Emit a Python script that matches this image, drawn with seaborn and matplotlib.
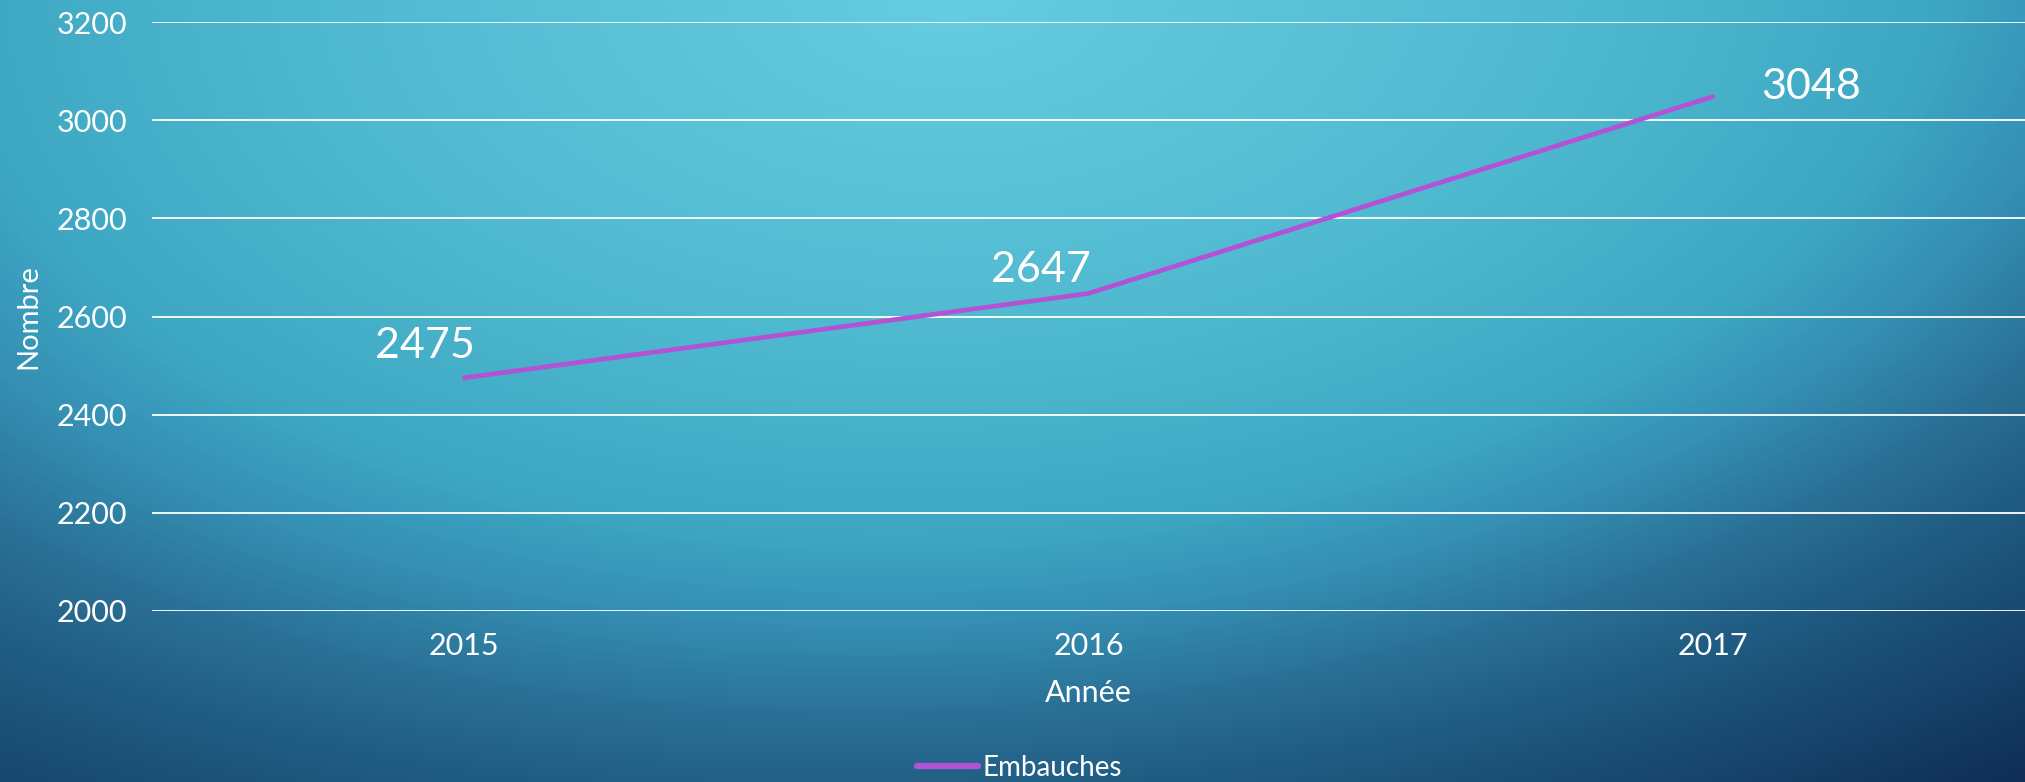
import numpy as np
import pandas as pd
import matplotlib
matplotlib.use("Agg")
import matplotlib.pyplot as plt
from matplotlib.colors import LinearSegmentedColormap
import seaborn as sns

# ---- data ----
years = ["2015", "2016", "2017"]
embauches = [2475, 2647, 3048]
series_name = "Embauches"
y_ticks = [2000, 2200, 2400, 2600, 2800, 3000, 3200]
x_label = "Année"
y_label = "Nombre"

# label offsets (points) - styling only
label_offsets = [(-28, 23), (-34, 17), (71, 7)]

sns.set_theme(style="white")
plt.rcParams['font.family'] = ['Lato', 'DejaVu Sans']

W, H = 2025, 782
fig = plt.figure(figsize=(W / 100, H / 100), dpi=100)

# background radial gradient
bg = fig.add_axes([0, 0, 1, 1], zorder=-10)
yy, xx = np.mgrid[0:H, 0:W]
cx, cy = 950.0, 0.0
t = np.sqrt(((xx - cx) / 1400.0) ** 2 + ((yy - cy) / 800.0) ** 2)
t = t + 0.12 * (xx / W) * (yy / H)
stops = [0.0, 0.45, 0.7, 0.82, 0.95, 1.1, 1.4]
cols = ["#66cde0", "#4fb9d0", "#3ea8c4", "#3590b4", "#2a6f95", "#1d557b", "#0d2850"]
cmap = LinearSegmentedColormap.from_list("bg", [(s / stops[-1], c) for s, c in zip(stops, cols)])
bg.imshow(t, cmap=cmap, vmin=0, vmax=stops[-1], aspect="auto", interpolation="bilinear")
bg.set_axis_off()

ax = fig.add_axes([152 / W, 1 - 611 / H, 1 - 152 / W, (611 - 22) / H])
ax.patch.set_alpha(0)

df = pd.DataFrame({"Année": years, "Nombre": embauches, "Série": series_name})
sns.lineplot(data=df, x="Année", y="Nombre", hue="Série", palette=["#b452d6"],
             linewidth=3.4, ax=ax, sort=False)

ax.set_xlim(-0.5, len(years) - 0.5)
ax.set_ylim(y_ticks[0], y_ticks[-1])
ax.set_yticks(y_ticks)
ax.grid(axis="y", color="white", linewidth=1.3)
ax.grid(axis="x", visible=False)
for s in ax.spines.values():
    s.set_visible(False)
ax.tick_params(axis="both", colors="white", labelsize=22, length=0)
ax.tick_params(axis="y", pad=18)
ax.tick_params(axis="x", pad=15)
ax.set_xlabel(x_label, color="white", fontsize=22, labelpad=14)
ax.set_ylabel(y_label, color="white", fontsize=21)
ax.yaxis.set_label_coords(-(152 - 41) / (W - 152), 0.5)

for i, (v, off) in enumerate(zip(embauches, label_offsets)):
    ax.annotate(str(v), (i, v), xytext=off, textcoords="offset points",
                ha="center", va="center", color="white", fontsize=31)

leg = ax.legend(loc="center", bbox_to_anchor=(0.463, (611 - 768) / (611 - 22)),
                frameon=False, fontsize=20, handlelength=2.2, handletextpad=0.15)
for txt in leg.get_texts():
    txt.set_color("white")
for line in leg.get_lines():
    line.set_linewidth(4.5)

fig.savefig("out.png", dpi=100)
